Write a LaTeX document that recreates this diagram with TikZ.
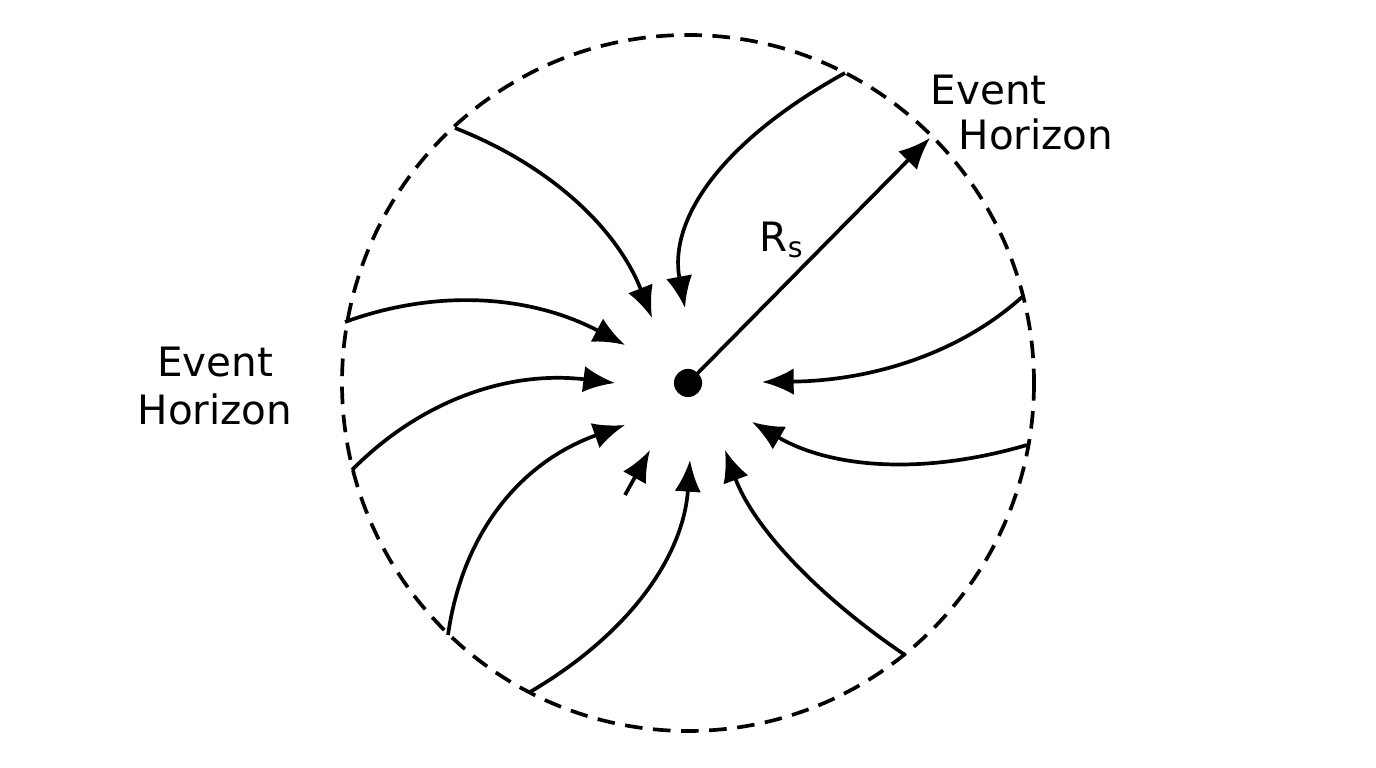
\documentclass[tikz,border=0pt]{standalone}
\usepackage{fontspec}
\setmainfont{DejaVu Sans}
\usetikzlibrary{arrows.meta,calc}
\begin{document}
\begin{tikzpicture}[x=0.01cm,y=-0.01cm,
  fl/.style={line width=1.05pt,-{Latex[length=9pt,width=7.5pt]}},
  lbl/.style={font=\fontsize{11.5}{13.5}\selectfont,align=center}]
\useasboundingbox (0,0) rectangle (1376,768);
\newcommand\qarrow[3]{\draw[fl] (#1) .. controls ($(#1)!0.667!(#2)$) and ($(#3)!0.667!(#2)$) .. (#3);}
\draw[line width=1.05pt,dash pattern=on 5pt off 3pt] (688,383) ellipse [x radius=346,y radius=348];
\node[circle,fill,inner sep=0pt,minimum size=8pt] (c) at (688,383) {};
\coordinate (s1) at (455,128); \coordinate (e1) at (652,318); \coordinate (q1) at (600,185);
\coordinate (s2) at (845,73);  \coordinate (e2) at (685,308); \coordinate (q2) at (660,175);
\coordinate (s3) at (345,322); \coordinate (e3) at (625,345); \coordinate (q3) at (485,271);
\coordinate (s4) at (352,470); \coordinate (e4) at (615,383); \coordinate (q4) at (457,364);
\coordinate (s5) at (448,635); \coordinate (e5) at (625,425); \coordinate (q5) at (470,480);
\coordinate (s6) at (530,692); \coordinate (e6) at (690,460); \coordinate (q6) at (680,604);
\coordinate (s7) at (625,495); \coordinate (e7) at (650,450);
\coordinate (s8) at (905,655); \coordinate (e8) at (725,450); \coordinate (q8) at (765,560);
\coordinate (s9) at (1027,445); \coordinate (e9) at (752,422); \coordinate (q9) at (870,491);
\coordinate (s10) at (1022,297); \coordinate (e10) at (762,382); \coordinate (q10) at (930,380);
\coordinate (rs) at (930,138);
\qarrow{s1}{q1}{e1}
\qarrow{s2}{q2}{e2}
\qarrow{s3}{q3}{e3}
\qarrow{s4}{q4}{e4}
\qarrow{s5}{q5}{e5}
\qarrow{s6}{q6}{e6}
\draw[fl] (s7) -- (e7);
\qarrow{s8}{q8}{e8}
\qarrow{s9}{q9}{e9}
\qarrow{s10}{q10}{e10}
\draw[fl] (c.center) -- (rs);
\node[lbl] (l1) at (215,386) {Event\\Horizon};
\node[lbl,anchor=west,inner sep=0pt] (l2a) at (930,90) {Event};
\node[lbl,anchor=west,inner sep=0pt] (l2b) at (958,134) {Horizon};
\node[lbl] (r) at (782,240) {R\textsubscript{s}};
\end{tikzpicture}
\end{document}
